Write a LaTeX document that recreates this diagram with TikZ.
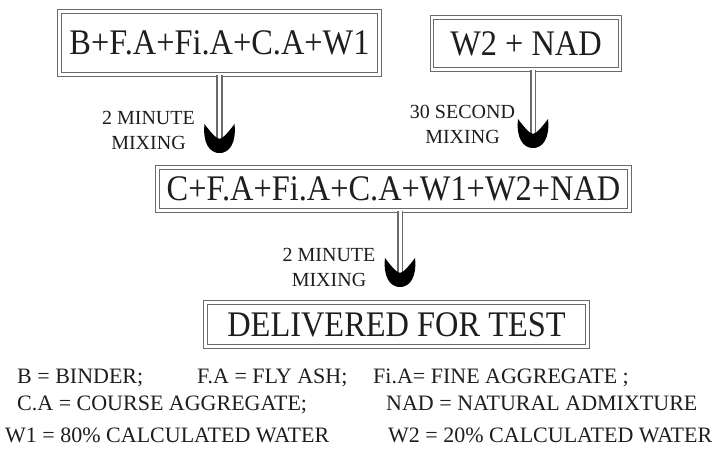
\documentclass[tikz,border=0pt]{standalone}
\usepackage{fontspec}
\setmainfont{Liberation Serif}
\newfontfamily\boxfont{Liberation Serif}[FakeStretch=0.9]
\usetikzlibrary{decorations.markings}
\definecolor{LineGray}{HTML}{6A6A6A}
\definecolor{InkGray}{HTML}{1E1E1E}

\begin{document}
\begin{tikzpicture}[
  x=1pt,y=-1pt,
  mixbox/.style={draw=LineGray,double=white,double distance=2.5pt,line width=1.2pt,inner sep=0pt,text=InkGray,font=\boxfont\fontsize{36}{40}\selectfont},
  steplabel/.style={align=center,inner sep=0pt,text=InkGray,font=\fontsize{20}{25}\selectfont},
  legend/.style={anchor=base west,inner sep=0pt,text=InkGray,font=\fontsize{22}{26}\selectfont},
  mixarr/.style={draw=LineGray,double=white,double distance=3pt,line width=1.8pt,
    postaction={decorate,decoration={markings,mark=at position 1 with {
      \fill[black] (-29pt,15pt) .. controls (-10pt,17pt) and (0pt,10pt) .. (0pt,0pt)
        .. controls (0pt,-10pt) and (-10pt,-17pt) .. (-29pt,-15pt)
        .. controls (-21pt,-9pt) and (-15pt,-4pt) .. (-14pt,0pt)
        .. controls (-15pt,4pt) and (-21pt,9pt) .. cycle;}}}}
]
\fill[white] (0,0) rectangle (718,455);
\useasboundingbox (0,0) rectangle (718,455);
% mixing steps
\node[mixbox,minimum width=320pt,minimum height=63pt] (mix1) at (219.5,43) {B+F.A+Fi.A+C.A+W1};
\node[mixbox,minimum width=188pt,minimum height=52pt] (mix2) at (526,43.5) {W2 + NAD};
\node[mixbox,minimum width=472pt,minimum height=43pt] (mix3) at (393.5,189) {C+F.A+Fi.A+C.A+W1+W2+NAD};
\node[mixbox,minimum width=382pt,minimum height=44pt] (mix4) at (396.5,324.5) {DELIVERED FOR TEST};
% arrow ends
\coordinate (h1) at (219.5,153);
\coordinate (h2) at (533,148);
\coordinate (h3) at (400,287);
\draw[mixarr] (mix1.south -| h1) -- (h1);
\draw[mixarr] (mix2.south -| h2) -- (h2);
\draw[mixarr] (mix3.south -| h3) -- (h3);
\node[steplabel] (t1) at (148.5,130) {2 MINUTE\\MIXING};
\node[steplabel] (t2) at (462.5,124) {30 SECOND\\MIXING};
\node[steplabel] (t3) at (329,267) {2 MINUTE\\MIXING};
% legend
\node[legend] (lgB) at (17,383) {B = BINDER;};
\node[legend] (lgFA) at (197,383) {F.A = FLY ASH;};
\node[legend] (lgFiA) at (373,383) {Fi.A= FINE AGGREGATE ;};
\node[legend] (lgCA) at (17,410) {C.A = COURSE AGGREGATE;};
\node[legend] (lgNAD) at (386,410) {NAD = NATURAL ADMIXTURE};
\node[legend] (lgW1) at (5,442) {W1 = 80\% CALCULATED WATER};
\node[legend] (lgW2) at (388,442) {W2 = 20\% CALCULATED WATER};
\end{tikzpicture}
\end{document}
